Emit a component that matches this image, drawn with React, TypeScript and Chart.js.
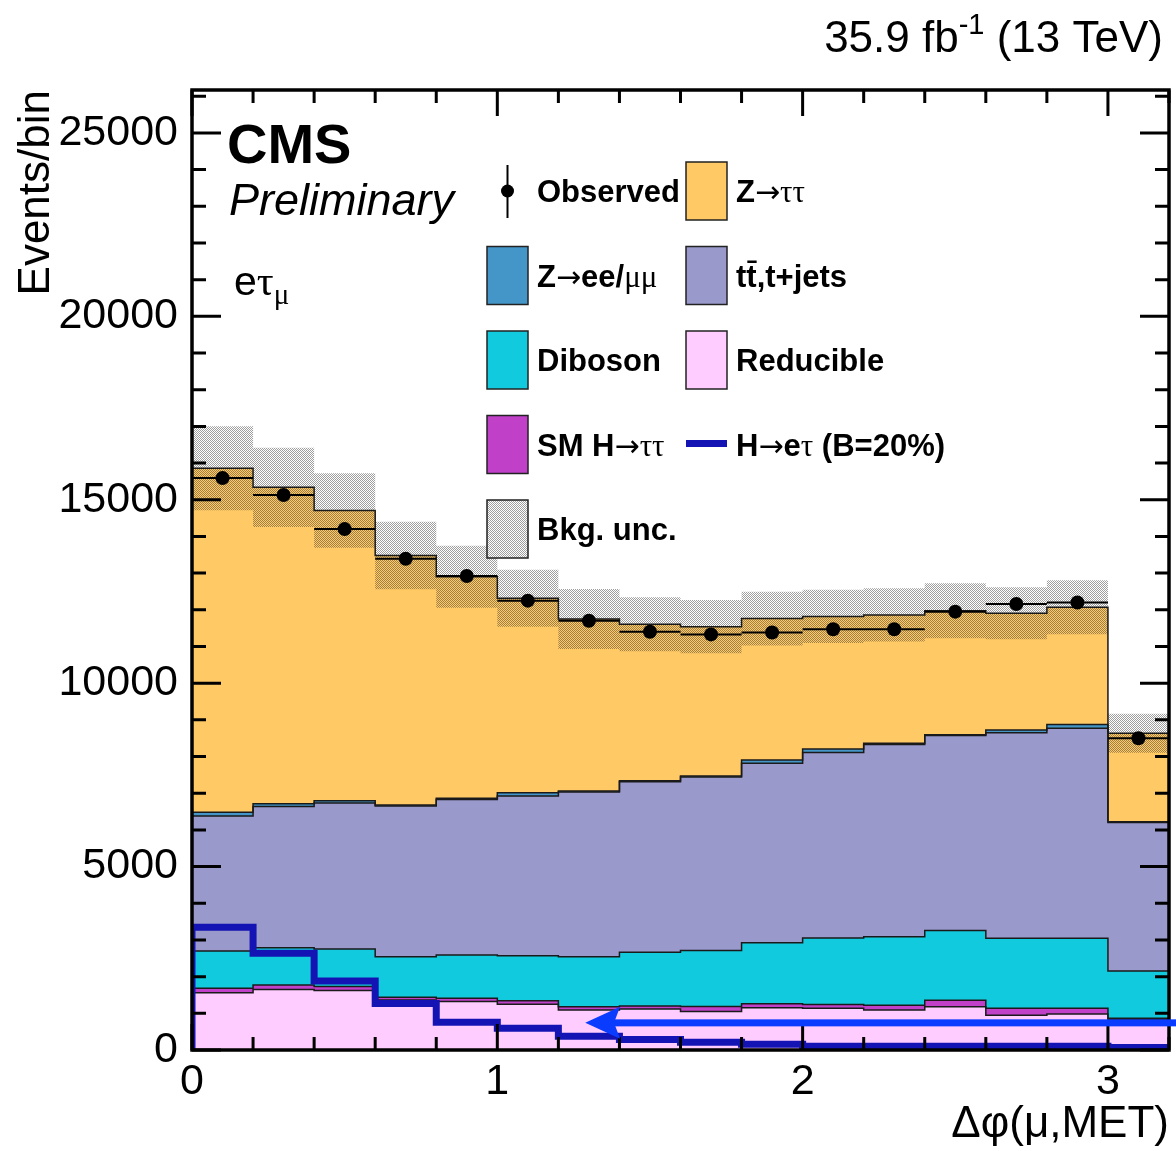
import React, { useEffect, useRef } from 'react';
import { Chart, registerables } from 'chart.js';

Chart.register(...registerables);

const W = 1176;
const H = 1151;
const SANS = '"Liberation Sans", Arial, Helvetica, sans-serif';
const SERIF = '"Liberation Serif", "Times New Roman", "DejaVu Serif", serif';
const ARROWFONT = '"DejaVu Sans", sans-serif';

// Binning in Δφ(μ,MET)
const BIN_EDGES = [0, 0.2, 0.4, 0.6, 0.8, 1.0, 1.2, 1.4, 1.6, 1.8, 2.0, 2.2, 2.4, 2.6, 2.8, 3.0, 3.2];
const BIN_CENTERS = [0.1, 0.3, 0.5, 0.7, 0.9, 1.1, 1.3, 1.5, 1.7, 1.9, 2.1, 2.3, 2.5, 2.7, 2.9, 3.1];

// Background yields per bin (stacked bottom to top)
const REDUCIBLE = [1560, 1650, 1620, 1360, 1320, 1250, 1090, 1120, 1050, 1150, 1140, 1090, 1180, 950, 980, 840];
const SM_HTT = [120, 120, 110, 75, 90, 90, 90, 80, 135, 110, 100, 130, 175, 185, 155, 25];
const DIBOSON = [1020, 1020, 1020, 1110, 1180, 1230, 1365, 1465, 1525, 1665, 1810, 1870, 1900, 1910, 1910, 1290];
const TTBAR = [3680, 3845, 3980, 4105, 4240, 4355, 4485, 4645, 4730, 4890, 5060, 5240, 5315, 5605, 5725, 4045];
const ZLL = [100, 75, 65, 30, 30, 90, 30, 30, 30, 90, 95, 30, 25, 75, 100, 25];
const ZTT = [9380, 8630, 7910, 6800, 6040, 5300, 4690, 4265, 4070, 3855, 3615, 3500, 3380, 3180, 3200, 2410];

// Total background uncertainty (absolute, per bin)
const BKG_UNC = [1145, 1080, 1015, 920, 845, 780, 820, 735, 725, 735, 725, 725, 750, 710, 735, 530];

// Observed events
const OBSERVED = [15590, 15130, 14200, 13390, 12920, 12250, 11700, 11400, 11330, 11380, 11470, 11470, 11950, 12160, 12200, 8500];

// LFV signal H→eτ (B=20%)
const SIGNAL_LFV = [3345, 2635, 1880, 1270, 755, 590, 375, 285, 210, 155, 105, 105, 105, 100, 100, 70];

// Axes
const X_MAX = 3.2;
const Y_MAX = 26170;
const X_TICKS = [0, 1, 2, 3];
const Y_TICKS = [0, 5000, 10000, 15000, 20000, 25000];
const X_MINOR_STEP = 0.2;
const Y_MINOR_STEP = 1000;

// Left-pointing arrow across the lower part of the plot
const ARROW_Y = 740;
const ARROW_TIP_X = 1.288;
const ARROW_BACK_X = 1.402;

const COLORS = {
  ztt: '#ffca66',
  zll: '#4496c8',
  ttbar: '#9999cc',
  diboson: '#12cadd',
  reducible: '#ffccff',
  smh: '#c040c8',
  signal: '#1414b4',
  arrow: '#0a3cff',
  outline: '#1a1a1a',
};

const LAYERS = [
  { label: 'Reducible', values: REDUCIBLE, color: COLORS.reducible },
  { label: 'SM H→ττ', values: SM_HTT, color: COLORS.smh },
  { label: 'Diboson', values: DIBOSON, color: COLORS.diboson },
  { label: 'tt̄,t+jets', values: TTBAR, color: COLORS.ttbar },
  { label: 'Z→ee/μμ', values: ZLL, color: COLORS.zll },
  { label: 'Z→ττ', values: ZTT, color: COLORS.ztt },
];

type Pt = { x: number; y: number | null };

function histPoints(vals: number[]): Pt[] {
  return BIN_EDGES.map((x, i) => ({ x, y: vals[Math.min(i, vals.length - 1)] }));
}

type Seg = { t: string; f: string; dy?: number; over?: boolean };

function richWidth(ctx: CanvasRenderingContext2D, segs: Seg[]) {
  let w = 0;
  for (const s of segs) {
    ctx.font = s.f;
    w += ctx.measureText(s.t).width;
  }
  return w;
}

function drawRich(ctx: CanvasRenderingContext2D, x: number, y: number, segs: Seg[]) {
  let cx = x;
  for (const s of segs) {
    ctx.font = s.f;
    ctx.fillText(s.t, cx, y + (s.dy || 0));
    const w = ctx.measureText(s.t).width;
    if (s.over) ctx.fillRect(cx + 1, y - 26, w - 1, 2.5);
    cx += w;
  }
}

export default function App() {
  const ref = useRef<HTMLCanvasElement>(null);

  useEffect(() => {
    const canvas = ref.current;
    if (!canvas) return;
    const ctx0 = canvas.getContext('2d')!;

    // fine checker hatch for the uncertainty band
    const pc = document.createElement('canvas');
    pc.width = 2;
    pc.height = 2;
    const pctx = pc.getContext('2d')!;
    pctx.fillStyle = 'rgba(40,40,40,0.45)';
    pctx.fillRect(0, 0, 1, 1);
    pctx.fillRect(1, 1, 1, 1);
    const hatch = ctx0.createPattern(pc, 'repeat')!;

    // cumulative stack boundaries
    let run = BIN_CENTERS.map(() => 0);
    const cum = LAYERS.map((l) => (run = run.map((s, i) => s + l.values[i])));
    const total = cum[cum.length - 1];
    const uncHi = total.map((t, i) => t + BKG_UNC[i]);
    const uncLo = total.map((t, i) => t - BKG_UNC[i]);

    const stackSets = LAYERS.map((l, k) => ({
      type: 'line' as const,
      label: l.label,
      data: histPoints(cum[k]),
      stepped: true,
      borderColor: COLORS.outline,
      borderWidth: 1.5,
      backgroundColor: l.color,
      fill: k === 0 ? 'origin' : '+1',
      pointRadius: 0,
    })).reverse();

    const xErrData: Pt[] = OBSERVED.flatMap((v, i) => [
      { x: BIN_EDGES[i], y: v },
      { x: BIN_EDGES[i + 1], y: v },
      { x: BIN_EDGES[i + 1], y: null },
    ]);

    const datasets: any[] = [
      {
        type: 'line',
        label: 'Observed',
        data: OBSERVED.map((v, i) => ({ x: BIN_CENTERS[i], y: v })),
        showLine: false,
        pointRadius: 7,
        pointBackgroundColor: '#000',
        pointBorderColor: '#000',
        pointBorderWidth: 0,
      },
      {
        type: 'line',
        label: 'Observed bin width',
        data: xErrData,
        borderColor: '#000',
        borderWidth: 2,
        pointRadius: 0,
        spanGaps: false,
        fill: false,
      },
      {
        type: 'line',
        label: 'H→eτ (B=20%)',
        data: [{ x: 0, y: 0 }, ...histPoints(SIGNAL_LFV)],
        stepped: true,
        borderColor: COLORS.signal,
        borderWidth: 7,
        borderJoinStyle: 'miter',
        borderCapStyle: 'butt',
        pointRadius: 0,
        fill: false,
        clip: 0,
      },
      {
        type: 'line',
        label: 'Bkg. unc.',
        data: histPoints(uncHi),
        stepped: true,
        borderColor: 'rgba(0,0,0,0)',
        borderWidth: 0,
        backgroundColor: hatch,
        fill: '+1',
        pointRadius: 0,
      },
      {
        type: 'line',
        label: 'Bkg. unc. low',
        data: histPoints(uncLo),
        stepped: true,
        borderColor: 'rgba(0,0,0,0)',
        borderWidth: 0,
        fill: false,
        pointRadius: 0,
      },
      ...stackSets,
    ];

    const framePlugin = {
      id: 'frame',
      afterDatasetsDraw(chart: any) {
        const { ctx, chartArea: a, scales } = chart;
        const xs = scales.x;
        const ys = scales.y;
        ctx.save();
        ctx.strokeStyle = '#000';
        ctx.lineWidth = 3;
        ctx.beginPath();
        const nx = Math.round(X_MAX / X_MINOR_STEP);
        for (let k = 0; k <= nx; k++) {
          const v = k * X_MINOR_STEP;
          const major = X_TICKS.some((t) => Math.abs(t - v) < 1e-6);
          const len = major ? 26 : 13;
          const px = xs.getPixelForValue(v);
          ctx.moveTo(px, a.bottom);
          ctx.lineTo(px, a.bottom - len);
          ctx.moveTo(px, a.top);
          ctx.lineTo(px, a.top + len);
        }
        for (let v = 0; v <= Y_MAX; v += Y_MINOR_STEP) {
          const major = Y_TICKS.includes(v);
          const len = major ? 29 : 14;
          const py = ys.getPixelForValue(v);
          ctx.moveTo(a.left, py);
          ctx.lineTo(a.left + len, py);
          ctx.moveTo(a.right, py);
          ctx.lineTo(a.right - len, py);
        }
        ctx.stroke();
        ctx.lineWidth = 3.5;
        ctx.strokeRect(a.left, a.top, a.right - a.left, a.bottom - a.top);
        ctx.restore();
      },
    };

    const B = `bold 31px ${SANS}`;
    const S = `31px ${SERIF}`;
    const A = `30px ${ARROWFONT}`;
    const ROWS = [191, 275.5, 360, 444.5, 529];
    const COL_X = [487, 686];
    const BOX_W = 41;
    const BOX_H = 58;

    const legendItems: { col: number; row: number; kind: string; fill?: any; segs: Seg[] }[] = [
      { col: 0, row: 0, kind: 'marker', segs: [{ t: 'Observed', f: B }] },
      { col: 1, row: 0, kind: 'box', fill: COLORS.ztt, segs: [{ t: 'Z', f: B }, { t: '→', f: A }, { t: 'ττ', f: S }] },
      { col: 0, row: 1, kind: 'box', fill: COLORS.zll, segs: [{ t: 'Z', f: B }, { t: '→', f: A }, { t: 'ee/', f: B }, { t: 'μμ', f: S }] },
      { col: 1, row: 1, kind: 'box', fill: COLORS.ttbar, segs: [{ t: 't', f: B }, { t: 't', f: B, over: true }, { t: ',t+jets', f: B }] },
      { col: 0, row: 2, kind: 'box', fill: COLORS.diboson, segs: [{ t: 'Diboson', f: B }] },
      { col: 1, row: 2, kind: 'box', fill: COLORS.reducible, segs: [{ t: 'Reducible', f: B }] },
      { col: 0, row: 3, kind: 'box', fill: COLORS.smh, segs: [{ t: 'SM H', f: B }, { t: '→', f: A }, { t: 'ττ', f: S }] },
      { col: 1, row: 3, kind: 'line', segs: [{ t: 'H', f: B }, { t: '→', f: A }, { t: 'e', f: B }, { t: 'τ', f: S }, { t: ' (B=20%)', f: B }] },
      { col: 0, row: 4, kind: 'box', fill: hatch, segs: [{ t: 'Bkg. unc.', f: B }] },
    ];

    const overlayPlugin = {
      id: 'overlay',
      afterDraw(chart: any) {
        const { ctx, scales } = chart;
        const xs = scales.x;
        const ys = scales.y;
        ctx.save();
        ctx.fillStyle = '#000';
        ctx.textBaseline = 'alphabetic';
        ctx.textAlign = 'left';

        // experiment label
        ctx.font = `bold 56px ${SANS}`;
        ctx.fillText('CMS', 227, 163);
        ctx.font = `italic 45px ${SANS}`;
        ctx.fillText('Preliminary', 229, 215);

        // channel label
        drawRich(ctx, 234, 295, [
          { t: 'e', f: `41px ${SANS}` },
          { t: 'τ', f: `42px ${SERIF}` },
          { t: 'μ', f: `29px ${SERIF}`, dy: 9 },
        ]);

        // luminosity label
        const lumi: Seg[] = [
          { t: '35.9 fb', f: `44px ${SANS}` },
          { t: '-1', f: `29px ${SANS}`, dy: -18 },
          { t: ' (13 TeV)', f: `44px ${SANS}` },
        ];
        drawRich(ctx, 1163 - richWidth(ctx, lumi), 52, lumi);

        // legend
        for (const it of legendItems) {
          const bx = COL_X[it.col];
          const cy = ROWS[it.row];
          if (it.kind === 'box') {
            ctx.fillStyle = '#ffffff';
            ctx.fillRect(bx, cy - BOX_H / 2, BOX_W, BOX_H);
            ctx.fillStyle = it.fill;
            ctx.fillRect(bx, cy - BOX_H / 2, BOX_W, BOX_H);
            ctx.strokeStyle = '#222';
            ctx.lineWidth = 1.5;
            ctx.strokeRect(bx, cy - BOX_H / 2, BOX_W, BOX_H);
          } else if (it.kind === 'marker') {
            const mx = bx + 20.5;
            ctx.strokeStyle = '#000';
            ctx.lineWidth = 2;
            ctx.beginPath();
            ctx.moveTo(mx, cy - 26);
            ctx.lineTo(mx, cy + 27);
            ctx.stroke();
            ctx.fillStyle = '#000';
            ctx.beginPath();
            ctx.arc(mx, cy, 6.5, 0, Math.PI * 2);
            ctx.fill();
          } else if (it.kind === 'line') {
            ctx.strokeStyle = COLORS.signal;
            ctx.lineWidth = 7;
            ctx.beginPath();
            ctx.moveTo(bx, cy - 1);
            ctx.lineTo(bx + BOX_W, cy - 1);
            ctx.stroke();
          }
          ctx.fillStyle = '#000';
          drawRich(ctx, bx + 50, cy + 11, it.segs);
        }

        // arrow
        const ay = ys.getPixelForValue(ARROW_Y);
        const tipX = xs.getPixelForValue(ARROW_TIP_X);
        const backX = xs.getPixelForValue(ARROW_BACK_X);
        ctx.fillStyle = COLORS.arrow;
        ctx.fillRect(backX - 10, ay - 3.5, chart.width - (backX - 10), 7);
        ctx.beginPath();
        ctx.moveTo(tipX, ay);
        ctx.lineTo(backX, ay - 16);
        ctx.lineTo(backX - 6, ay);
        ctx.lineTo(backX, ay + 16);
        ctx.closePath();
        ctx.fill();
        ctx.restore();
      },
    };

    const chart = new Chart(canvas, {
      type: 'line',
      data: { datasets },
      options: {
        responsive: false,
        animation: false,
        devicePixelRatio: 1,
        events: [],
        layout: { padding: { top: 90, right: 4, left: 0, bottom: 0 } },
        plugins: {
          legend: { display: false },
          tooltip: { enabled: false },
          filler: { drawTime: 'beforeDatasetsDraw', propagate: false },
        } as any,
        scales: {
          x: {
            type: 'linear',
            min: 0,
            max: X_MAX,
            grid: { display: false, drawTicks: false },
            border: { display: false },
            afterBuildTicks: (s: any) => {
              s.ticks = X_TICKS.map((value) => ({ value }));
            },
            afterFit: (s: any) => {
              s.height = H - 1050;
            },
            ticks: {
              font: { family: SANS, size: 43 },
              color: '#000',
              padding: 6,
              maxRotation: 0,
              autoSkip: false,
              callback: (v: any) => String(v),
            },
            title: {
              display: true,
              text: 'Δφ(μ,MET)',
              align: 'end',
              color: '#000',
              font: { family: SANS, size: 44 },
              padding: { top: 0, bottom: 0 },
            },
          },
          y: {
            type: 'linear',
            min: 0,
            max: Y_MAX,
            grid: { display: false, drawTicks: false },
            border: { display: false },
            afterBuildTicks: (s: any) => {
              s.ticks = Y_TICKS.map((value) => ({ value }));
            },
            afterFit: (s: any) => {
              s.width = 192;
            },
            ticks: {
              font: { family: SANS, size: 43 },
              color: '#000',
              padding: 14,
              autoSkip: false,
              callback: (v: any) => String(v),
            },
            title: {
              display: true,
              text: 'Events/bin',
              align: 'end',
              color: '#000',
              font: { family: SANS, size: 44 },
              padding: { top: 10, bottom: 0 },
            },
          },
        },
      } as any,
      plugins: [framePlugin, overlayPlugin],
    });

    return () => chart.destroy();
  }, []);

  return (
    <div style={{ position: 'fixed', left: 0, top: 0, width: W, height: H, background: '#fff' }}>
      <canvas ref={ref} width={W} height={H} style={{ display: 'block', width: W, height: H }} />
    </div>
  );
}
